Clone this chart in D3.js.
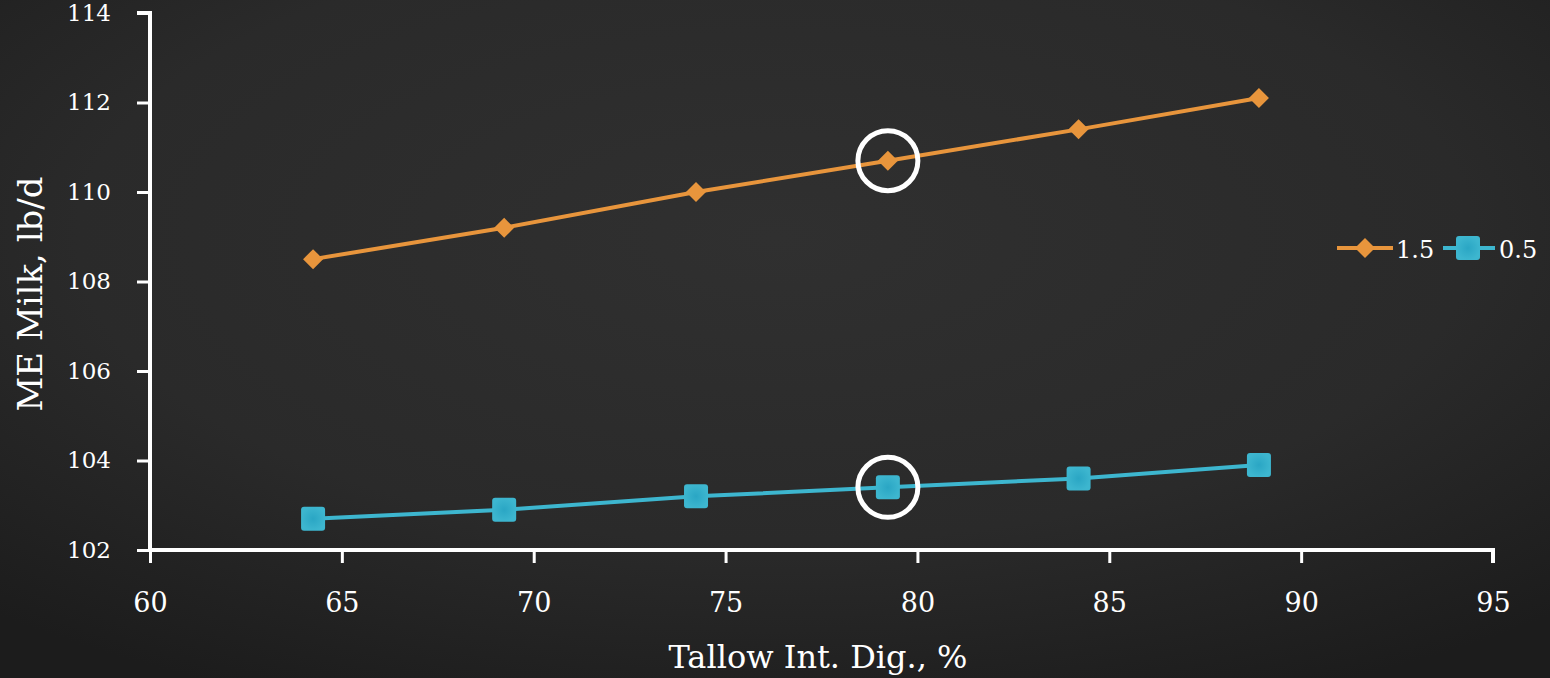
<!DOCTYPE html>
<html>
<head>
<meta charset="utf-8">
<script src="https://cdn.jsdelivr.net/npm/d3@7"></script>
<style>
  body { margin: 0; background: #242424; }
  svg text { font-family: "DejaVu Serif", "Liberation Serif", serif; fill: #fff; font-variant-numeric: oldstyle-nums; }
</style>
</head>
<body>
<div id="chart"></div>
<script>
// Data
var digestibility = [64.25, 69.23, 74.23, 79.23, 84.2, 88.9];
var milk_15 = [108.5, 109.2, 110.0, 110.7, 111.4, 112.1];
var milk_05 = [102.7, 102.9, 103.2, 103.4, 103.6, 103.9];
var series_names = ["1.5", "0.5"];
var x_ticks = [60, 65, 70, 75, 80, 85, 90, 95];
var y_ticks = [102, 104, 106, 108, 110, 112, 114];
var highlight_index = 3;

// Variables
var chart_width = 1550;
var chart_height = 678;
var orange = "#E8953C";
var blue = "#3DB6CF";

var svg = d3.select("#chart")
  .append("svg")
  .attr("width", chart_width)
  .attr("height", chart_height);

// chalkboard background
var defs = svg.append("defs");
var bg = defs.append("radialGradient").attr("id", "bg")
  .attr("cx", "50%").attr("cy", "35%").attr("r", "75%");
bg.append("stop").attr("offset", "0%").attr("stop-color", "#303030");
bg.append("stop").attr("offset", "60%").attr("stop-color", "#2a2a2a");
bg.append("stop").attr("offset", "100%").attr("stop-color", "#1c1c1c");
var sq = defs.append("radialGradient").attr("id", "sq");
sq.append("stop").attr("offset", "0%").attr("stop-color", "#2aa6c4");
sq.append("stop").attr("offset", "100%").attr("stop-color", blue);

svg.append("rect").attr("width", chart_width).attr("height", chart_height).attr("fill", "url(#bg)");

// Scales
var x_scale = d3.scaleLinear().domain([60, 95]).range([150, 1493]);
var y_scale = d3.scaleLinear().domain([102, 114]).range([550, 13]);

// Axes
var y_axis = d3.axisLeft(y_scale).tickValues(y_ticks).tickSize(13).tickPadding(26);
var gy = svg.append("g").attr("transform", "translate(150,0)").call(y_axis);
gy.select(".domain").attr("stroke", "#fff").attr("stroke-width", 4).attr("d", "M-13,13H0V550");
gy.selectAll(".tick line").attr("stroke", "#fff").attr("stroke-width", 3);
gy.selectAll(".tick text").attr("font-size", 23).attr("font-family", null).attr("fill", null);

var x_axis = d3.axisBottom(x_scale).tickValues(x_ticks).tickSize(13).tickPadding(30);
var gx = svg.append("g").attr("transform", "translate(0,550)").call(x_axis);
gx.select(".domain").attr("stroke", "#fff").attr("stroke-width", 4).attr("d", "M150,0H1493V13");
gx.selectAll(".tick line").attr("stroke", "#fff").attr("stroke-width", 3);
gx.selectAll(".tick text").attr("font-size", 27).attr("font-family", null).attr("fill", null);

// Axis titles
svg.append("text")
  .attr("transform", "translate(42,294) rotate(-90)")
  .attr("text-anchor", "middle")
  .attr("font-size", 34)
  .text("ME Milk, lb/d");
svg.append("text")
  .attr("x", 818).attr("y", 668)
  .attr("text-anchor", "middle")
  .attr("font-size", 32)
  .text("Tallow Int. Dig., %");

// Lines
var line = d3.line()
  .x(function(d, i){ return x_scale(digestibility[i]); })
  .y(function(d){ return y_scale(d); });

svg.append("path").datum(milk_15)
  .attr("d", line).attr("fill", "none").attr("stroke", orange).attr("stroke-width", 4);
svg.append("path").datum(milk_05)
  .attr("d", line).attr("fill", "none").attr("stroke", blue).attr("stroke-width", 4);

// Markers
function diamond(g, cx, cy, s){
  g.append("path")
    .attr("d", "M" + cx + "," + (cy - s) + "L" + (cx + s) + "," + cy + "L" + cx + "," + (cy + s) + "L" + (cx - s) + "," + cy + "Z")
    .attr("fill", orange);
}
function square(g, cx, cy, s){
  g.append("rect")
    .attr("x", cx - s).attr("y", cy - s)
    .attr("width", 2 * s).attr("height", 2 * s)
    .attr("rx", 3).attr("fill", "url(#sq)");
}

var markers = svg.append("g");
milk_15.forEach(function(d, i){
  diamond(markers, x_scale(digestibility[i]), y_scale(d), 10);
});
milk_05.forEach(function(d, i){
  square(markers, x_scale(digestibility[i]), y_scale(d), 12);
});

// Highlight circles
[milk_15, milk_05].forEach(function(s){
  svg.append("circle")
    .attr("cx", x_scale(digestibility[highlight_index]))
    .attr("cy", y_scale(s[highlight_index]))
    .attr("r", 30)
    .attr("fill", "none")
    .attr("stroke", "#fff")
    .attr("stroke-width", 5);
});

// Legend
var legend = svg.append("g").attr("transform", "translate(0,248)");
legend.append("line").attr("x1", 1337).attr("x2", 1393).attr("stroke", orange).attr("stroke-width", 4);
diamond(legend, 1365, 0, 10);
legend.append("text").attr("x", 1396).attr("y", 10).attr("font-size", 24).text(series_names[0]);
legend.append("line").attr("x1", 1443).attr("x2", 1495).attr("stroke", blue).attr("stroke-width", 4);
square(legend, 1468, 0, 12);
legend.append("text").attr("x", 1499).attr("y", 10).attr("font-size", 24).text(series_names[1]);
</script>
</body>
</html>
